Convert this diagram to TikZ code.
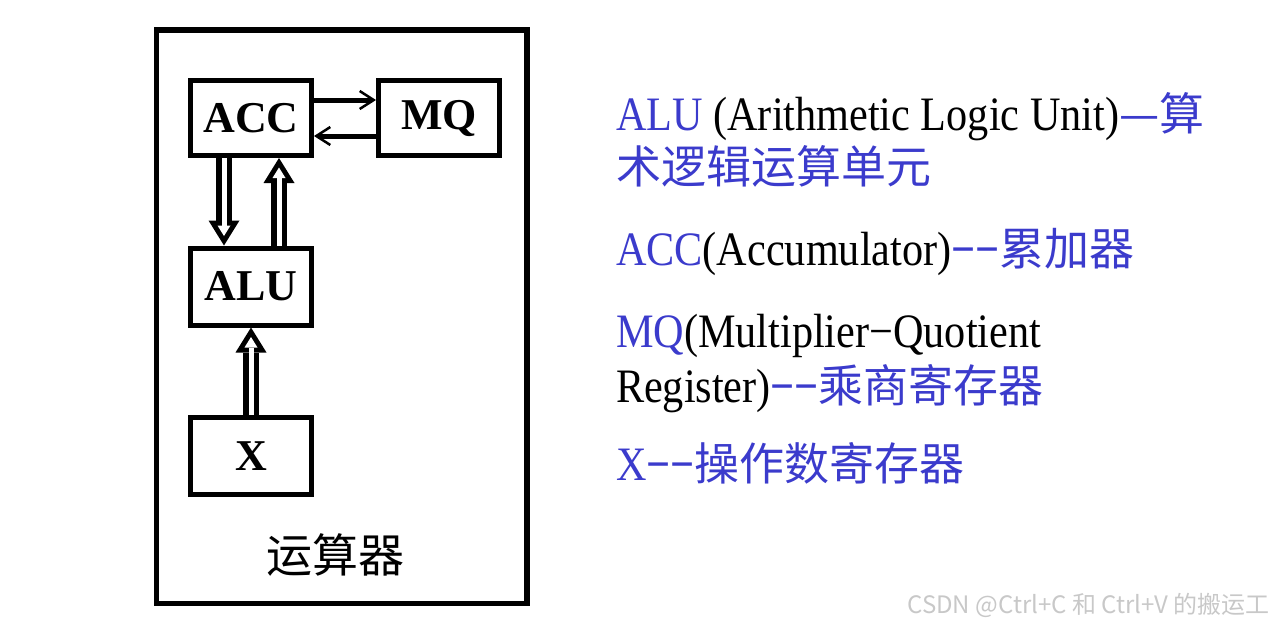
\documentclass[tikz,border=0pt]{standalone}
\usepackage{fontspec}
\setmainfont{Liberation Serif}
\newfontfamily\cjk{Noto Sans CJK SC}
\newfontfamily\lat[FakeStretch=0.88]{Liberation Serif}
\usetikzlibrary{arrows.meta}
\definecolor{tblue}{RGB}{59,59,204}
\definecolor{wm}{RGB}{200,200,200}
\newcommand\cjblue[1]{{\cjk\fontsize{45}{45}\selectfont\color{tblue}#1}}
\begin{document}
\begin{tikzpicture}[x=1pt,y=-1pt,
 reg/.style={draw, line width=5pt, minimum width=121pt, inner sep=0pt, font=\fontsize{44}{44}\selectfont\bfseries},
 thinarr/.style={line width=5pt, -{Straight Barb[length=14pt,width=18pt,line width=2.5pt]}},
 hollow/.style={line width=16pt, -{Triangle[length=25pt,width=31pt,line width=0pt]},
   postaction={draw, white, line width=5pt, shorten >=9.5pt, -{Triangle[length=10.5pt,width=13pt,line width=0pt]}}},
 lab/.style={anchor=base west, inner sep=0pt, outer sep=0pt},
 latf/.style={font=\lat\fontsize{48}{48}\selectfont},
]
\useasboundingbox (0,0) rectangle (1282,627);
% container
\node[draw, line width=5.5pt, minimum width=370.5pt, minimum height=573.5pt, inner sep=0pt] (calc) at (341.75,316.75) {};
\node[font=\cjk\fontsize{46}{46}\selectfont, inner sep=0pt] (calclab) at (335.5,555) {运算器};
% registers
\node[reg, minimum height=75pt] (acc) at (251,118) {ACC};
\node[reg, minimum height=75pt] (mq) at (439,118) {MQ};
\node[reg, minimum height=77pt] (alu) at (251,286.5) {ALU};
\node[reg, minimum height=77pt] (xreg) at (251,456) {X};
% connectors
\draw[thinarr] ([yshift=18pt]acc.east) -- ([yshift=18pt]mq.west);
\draw[thinarr] ([yshift=-18pt]mq.west) -- ([yshift=-18pt]acc.east);
\draw[hollow] ([xshift=-27pt]acc.south) -- ([xshift=-27pt]alu.north);
\draw[hollow] ([xshift=28pt]alu.north) -- ([xshift=28pt]acc.south);
\draw[hollow] (xreg.north) -- (alu.south);
% legend text
\node[lab, latf] (t1) at (616,130) {\textcolor{tblue}{ALU} (Arithmetic Logic Unit)\cjblue{—算}};
\node[lab] (t2) at (616,183) {\cjblue{术逻辑运算单元}};
\node[lab, latf] (t3) at (616,265) {\textcolor{tblue}{ACC}(Accumulator)\textcolor{tblue}{\bfseries −−}\cjblue{累加器}};
\node[lab, latf] (t4) at (616,347) {\textcolor{tblue}{MQ}(Multiplier−Quotient};
\node[lab, latf] (t5) at (616,402) {Register)\textcolor{tblue}{\bfseries −−}\cjblue{乘商寄存器}};
\node[lab, latf] (t6) at (616,480) {\textcolor{tblue}{X\bfseries −−}\cjblue{操作数寄存器}};
% watermark
\node[anchor=base east, inner sep=0pt, font=\cjk\fontsize{24}{24}\selectfont, text=wm] (wmk) at (1270,613) {CSDN @Ctrl+C 和 Ctrl+V 的搬运工};
\end{tikzpicture}
\end{document}
